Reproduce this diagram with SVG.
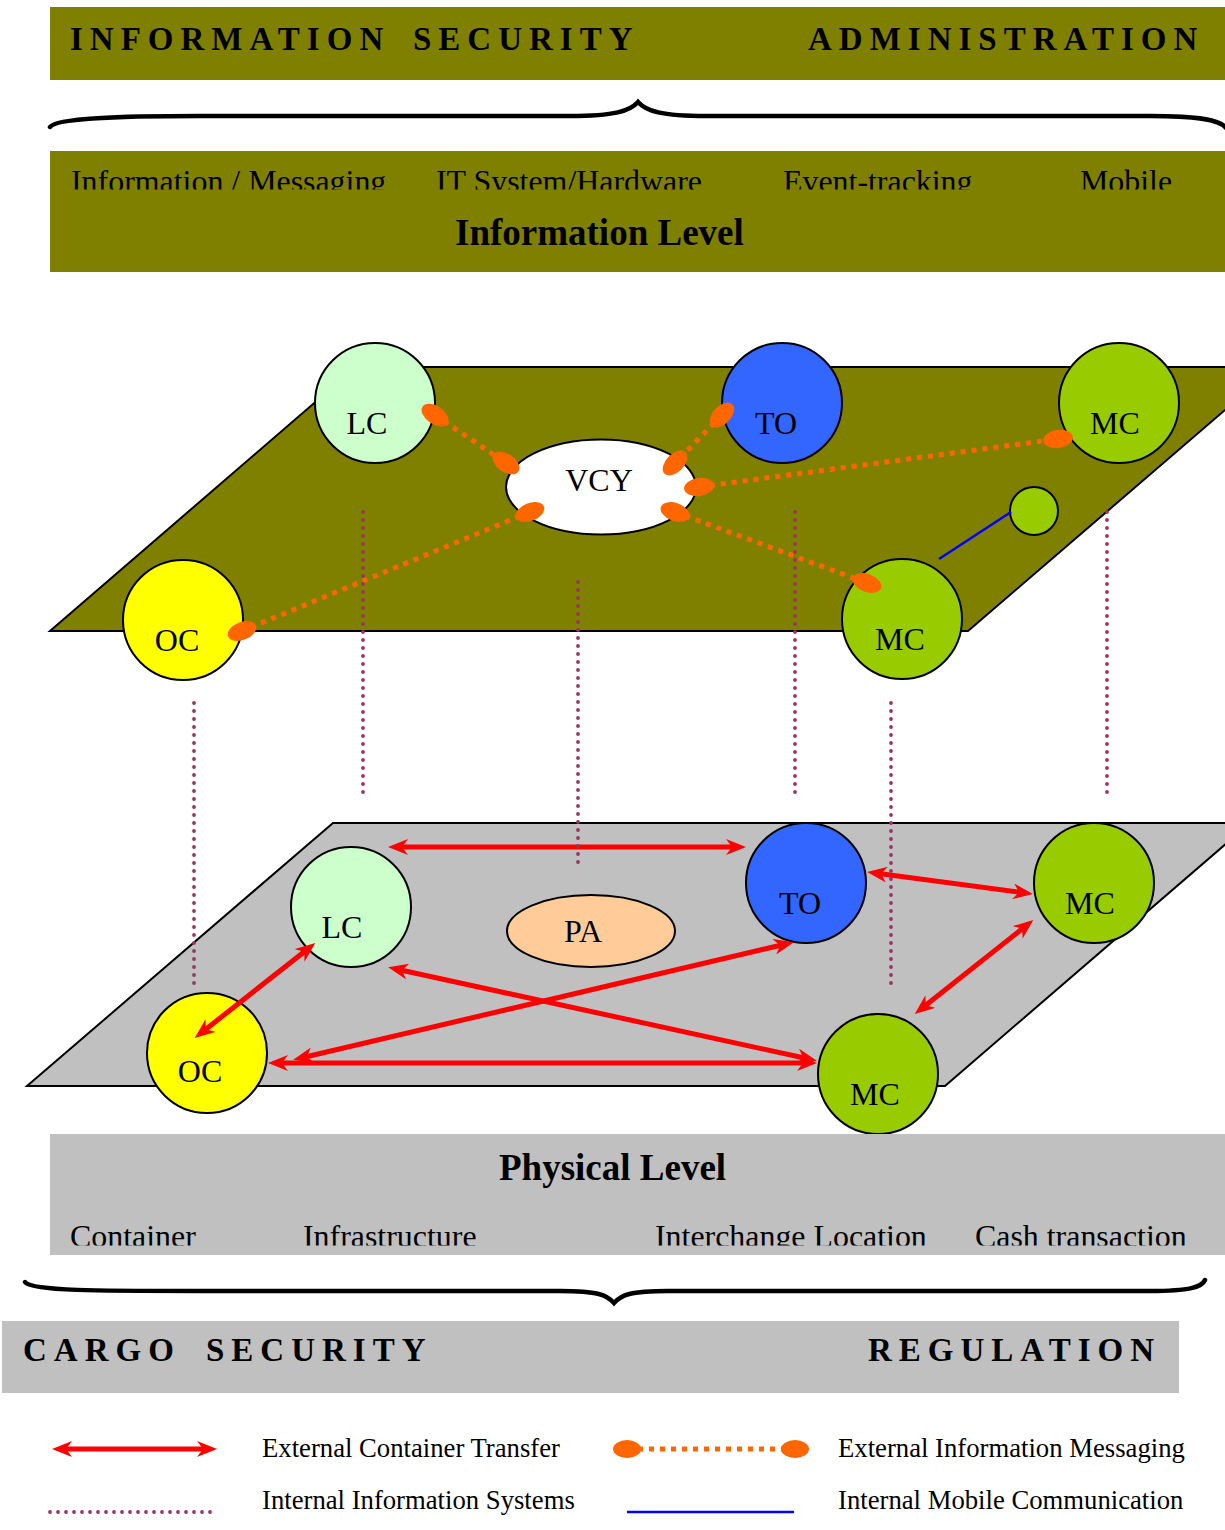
<svg xmlns="http://www.w3.org/2000/svg" width="1225" height="1530" viewBox="0 0 1225 1530">
<style>
  .serif { font-family: "Liberation Serif", "Times New Roman", serif; fill: #000; }
  .banner { font-size: 33px; font-weight: bold; letter-spacing: 7px; }
  .row { font-size: 31.9px; }
  .level { font-size: 37px; font-weight: bold; }
  .lbl { font-size: 32px; text-anchor: middle; }
  .leg { font-size: 26.7px; }
  .node { stroke: #000; stroke-width: 2; }
  .red { stroke: #ff0000; stroke-width: 5; fill: none; marker-start: url(#ah); marker-end: url(#ah); }
  .msg { stroke: #ff6600; stroke-width: 5; stroke-dasharray: 5 6; fill: none; }
  .oval { fill: #ff6600; }
  .sys { stroke: #993366; stroke-width: 3.8; stroke-dasharray: 0 8; stroke-linecap: round; fill: none; }
  .mob { stroke: #0000ff; stroke-width: 2.5; fill: none; }
  .brace { stroke: #000; stroke-width: 4.5; fill: none; stroke-linecap: round; }
</style>
<defs>
  <marker id="ah" viewBox="0 0 20 16" markerWidth="20" markerHeight="16" refX="12" refY="8" orient="auto-start-reverse" markerUnits="userSpaceOnUse">
    <path d="M0,0 L20,8 L0,16 L6,8 Z" fill="#ff0000"/>
  </marker>
  <clipPath id="cTop"><rect x="0" y="150" width="1225" height="39.5"/></clipPath>
  <clipPath id="cBot"><rect x="0" y="1200" width="1225" height="45.5"/></clipPath>
</defs>
<rect x="0" y="0" width="1225" height="1530" fill="#fff"/>

<!-- Top banner -->
<g id="infosec-banner">
  <rect x="50" y="7" width="1180" height="73" fill="#808000"/>
  <text class="serif banner" x="70" y="50">INFORMATION</text>
  <text class="serif banner" x="413" y="50">SECURITY</text>
  <text class="serif banner" x="808" y="50">ADMINISTRATION</text>
</g>
<path class="brace" d="M50,127 C56,118 120,116 200,116 L570,116 C615,116 630,111 638,102 C646,111 661,116 706,116 L1150,116 C1200,116 1220,120 1226,128"/>

<!-- Information level bar -->
<g id="info-level-bar">
  <rect x="50" y="151" width="1180" height="121" fill="#808000"/>
  <g clip-path="url(#cTop)">
    <text class="serif row" x="71" y="192">Information / Messaging</text>
    <text class="serif row" x="436" y="192">IT System/Hardware</text>
    <text class="serif row" x="783" y="192">Event-tracking</text>
    <text class="serif row" x="1080" y="192">Mobile</text>
  </g>
  <text class="serif level" x="455" y="245">Information Level</text>
</g>

<!-- Planes -->
<polygon id="info-plane" points="50,631 356,367 1275,367 968,631" fill="#808000" stroke="#000" stroke-width="2"/>
<polygon id="phys-plane" points="27,1086 333,823 1250,823 945,1086" fill="#c0c0c0" stroke="#000" stroke-width="2"/>

<!-- Upper nodes -->
<g id="up-lc"><circle class="node" cx="375" cy="403" r="60" fill="#ccffcc"/><text class="serif lbl" x="367" y="434">LC</text></g>
<g id="up-to"><circle class="node" cx="782" cy="403" r="60" fill="#3366ff"/><text class="serif lbl" x="776" y="434">TO</text></g>
<g id="up-mc1"><circle class="node" cx="1119" cy="403" r="60" fill="#99cc00"/><text class="serif lbl" x="1115" y="434">MC</text></g>
<g id="up-oc"><circle class="node" cx="183" cy="620" r="60" fill="#ffff00"/><text class="serif lbl" x="177" y="651">OC</text></g>
<g id="up-mc2"><circle class="node" cx="902" cy="619" r="60" fill="#99cc00"/><text class="serif lbl" x="900" y="650">MC</text></g>
<g id="up-vcy"><ellipse class="node" cx="601" cy="487" rx="95" ry="47.5" fill="#fff"/><text class="serif lbl" x="599" y="491">VCY</text></g>
<g id="up-mobile"><circle class="node" cx="1034" cy="511" r="24" fill="#99cc00"/></g>

<!-- Lower nodes -->
<g id="lo-lc"><circle class="node" cx="351" cy="907" r="60" fill="#ccffcc"/><text class="serif lbl" x="342" y="938">LC</text></g>
<g id="lo-to"><circle class="node" cx="806" cy="883" r="60" fill="#3366ff"/><text class="serif lbl" x="800" y="914">TO</text></g>
<g id="lo-mc1"><circle class="node" cx="1094" cy="883" r="60" fill="#99cc00"/><text class="serif lbl" x="1090" y="914">MC</text></g>
<g id="lo-oc"><circle class="node" cx="207" cy="1053" r="60" fill="#ffff00"/><text class="serif lbl" x="200" y="1082">OC</text></g>
<g id="lo-mc2"><circle class="node" cx="878" cy="1074" r="60" fill="#99cc00"/><text class="serif lbl" x="875" y="1105">MC</text></g>
<g id="lo-pa"><ellipse class="node" cx="591" cy="931" rx="84" ry="36" fill="#ffcc99"/><text class="serif lbl" x="583" y="942">PA</text></g>

<!-- Connectors -->
<g id="connectors">
  <!-- external container transfer -->
  <line class="red" x1="396" y1="847" x2="738" y2="847"/>
  <line class="red" x1="875" y1="873" x2="1025" y2="893"/>
  <line class="red" x1="1027" y1="925" x2="921" y2="1009"/>
  <line class="red" x1="309" y1="948" x2="201" y2="1033"/>
  <line class="red" x1="396" y1="969" x2="809" y2="1059"/>
  <line class="red" x1="301" y1="1058" x2="786" y2="944"/>
  <line class="red" x1="276" y1="1063" x2="809" y2="1063"/>
  <!-- external information messaging -->
  <line class="msg" x1="435" y1="415" x2="506" y2="463"/>
  <ellipse class="oval" cx="435" cy="415" rx="15" ry="9" transform="rotate(34 435 415)"/>
  <ellipse class="oval" cx="506" cy="463" rx="15" ry="9" transform="rotate(34 506 463)"/>
  <line class="msg" x1="722" y1="415" x2="675" y2="463"/>
  <ellipse class="oval" cx="722" cy="415" rx="15" ry="9" transform="rotate(-46 722 415)"/>
  <ellipse class="oval" cx="675" cy="463" rx="15" ry="9" transform="rotate(-46 675 463)"/>
  <line class="msg" x1="699" y1="487" x2="1058" y2="439"/>
  <ellipse class="oval" cx="699" cy="487" rx="15" ry="9" transform="rotate(-8 699 487)"/>
  <ellipse class="oval" cx="1058" cy="439" rx="15" ry="9" transform="rotate(-8 1058 439)"/>
  <line class="msg" x1="530" y1="512" x2="242" y2="631"/>
  <ellipse class="oval" cx="530" cy="512" rx="15" ry="9" transform="rotate(-22 530 512)"/>
  <ellipse class="oval" cx="242" cy="631" rx="15" ry="9" transform="rotate(-22 242 631)"/>
  <line class="msg" x1="675" y1="512" x2="867" y2="583"/>
  <ellipse class="oval" cx="675" cy="512" rx="15" ry="9" transform="rotate(20 675 512)"/>
  <ellipse class="oval" cx="867" cy="583" rx="15" ry="9" transform="rotate(20 867 583)"/>
  <!-- internal mobile communication -->
  <line class="mob" x1="939" y1="559" x2="1011" y2="512"/>
  <!-- internal information systems -->
  <line class="sys" x1="194" y1="703" x2="194" y2="985"/>
  <line class="sys" x1="363" y1="512" x2="363" y2="793"/>
  <line class="sys" x1="578" y1="582" x2="578" y2="864"/>
  <line class="sys" x1="795" y1="512" x2="795" y2="800"/>
  <line class="sys" x1="891" y1="703" x2="891" y2="985"/>
  <line class="sys" x1="1107" y1="512" x2="1107" y2="800"/>
</g>

<!-- Physical level bar -->
<g id="phys-level-bar">
  <rect x="50" y="1134" width="1180" height="121" fill="#c0c0c0"/>
  <text class="serif level" x="499" y="1180">Physical Level</text>
  <g clip-path="url(#cBot)">
    <text class="serif row" x="70" y="1247">Container</text>
    <text class="serif row" x="303" y="1247">Infrastructure</text>
    <text class="serif row" x="655" y="1247">Interchange Location</text>
    <text class="serif row" x="975" y="1247">Cash transaction</text>
  </g>
</g>
<path class="brace" d="M25,1282 C31,1291 100,1291 200,1291 L560,1291 C598,1291 607,1295 614,1303 C621,1295 630,1291 668,1291 L1150,1291 C1190,1291 1202,1287 1205,1280"/>

<!-- Bottom banner -->
<g id="cargo-banner">
  <rect x="2" y="1321" width="1177" height="72" fill="#c0c0c0"/>
  <text class="serif banner" x="23" y="1361">CARGO</text>
  <text class="serif banner" x="206" y="1361">SECURITY</text>
  <text class="serif banner" x="868" y="1361">REGULATION</text>
</g>

<!-- Legend -->
<g id="legend">
  <line class="red" x1="60" y1="1449" x2="209" y2="1449"/>
  <text class="serif leg" x="262" y="1457">External Container Transfer</text>
  <line class="msg" x1="627" y1="1449" x2="795" y2="1449"/>
  <ellipse class="oval" cx="627" cy="1449" rx="14" ry="9"/>
  <ellipse class="oval" cx="795" cy="1449" rx="14" ry="9"/>
  <text class="serif leg" x="838" y="1457">External Information Messaging</text>
  <line class="sys" x1="50" y1="1512" x2="211" y2="1512"/>
  <text class="serif leg" x="262" y="1509">Internal Information Systems</text>
  <line class="mob" x1="627" y1="1512" x2="794" y2="1512" stroke-width="3"/>
  <text class="serif leg" x="838" y="1509">Internal Mobile Communication</text>
</g>
</svg>
